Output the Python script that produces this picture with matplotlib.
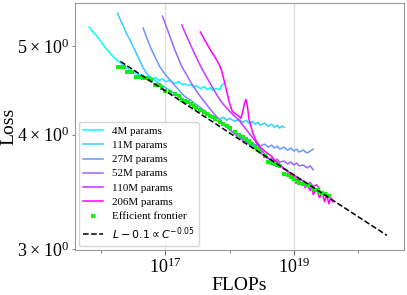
import matplotlib
matplotlib.use("Agg")
import numpy as np
import matplotlib.pyplot as plt
from matplotlib.ticker import FixedLocator, NullFormatter

plt.rcParams['font.family'] = ['Liberation Serif', 'DejaVu Serif']
plt.rcParams['mathtext.fontset'] = 'dejavusans'

# ---------------------------------------------------------------
# Curvas de loss por modelo (FLOPs, loss)
# ---------------------------------------------------------------
flops_4m = [6.5e15, 7e15, 8e15, 9e15, 1e16, 1.2e16, 1.4e16, 1.6e16, 1.8e16, 2e16,
            2.25e16, 2.5e16, 2.75e16, 3e16, 3.5e16, 4e16, 4.5e16, 5e16, 5.5e16, 6e16,
            7e16, 8e16, 9e16, 1e17, 1.2e17, 1.4e17, 1.6e17, 1.8e17, 2e17, 2.25e17,
            2.5e17, 2.75e17, 3e17, 3.5e17, 4e17, 4.5e17, 5e17, 5.5e17, 6e17, 7e17,
            7.5e17, 8e17]
loss_4m = [5.243, 5.204, 5.152, 5.101, 5.051, 4.963, 4.902, 4.853, 4.817, 4.793,
           4.757, 4.733, 4.710, 4.687, 4.663, 4.651, 4.640, 4.617, 4.628, 4.605,
           4.617, 4.583, 4.605, 4.571, 4.583, 4.549, 4.571, 4.537, 4.549, 4.526,
           4.537, 4.503, 4.526, 4.492, 4.514, 4.481, 4.503, 4.470, 4.492, 4.481,
           4.526, 4.549]

flops_11m = [1.8e16, 2e16, 2.25e16, 2.5e16, 2.75e16, 3e16, 3.5e16, 4e16, 4.5e16, 5e16,
             5.5e16, 6e16, 7e16, 8e16, 9e16, 1e17, 1.2e17, 1.4e17, 1.6e17, 1.8e17,
             2e17, 2.5e17, 3e17, 3.5e17, 4e17, 4.5e17, 5e17, 5.5e17, 6e17, 7e17,
             8e17, 9e17, 1e18, 1.2e18, 1.4e18, 1.6e18, 1.8e18, 2e18, 2.25e18, 2.5e18,
             2.75e18, 3e18, 3.5e18, 4e18, 4.5e18, 5e18, 5.5e18, 6e18, 6.5e18, 7e18]
loss_11m = [5.429, 5.335, 5.243, 5.152, 5.089, 5.025, 4.914, 4.817, 4.733, 4.675,
            4.640, 4.617, 4.583, 4.549, 4.526, 4.503, 4.470, 4.436, 4.403, 4.382,
            4.360, 4.316, 4.284, 4.252, 4.231, 4.210, 4.200, 4.179, 4.189, 4.158,
            4.179, 4.148, 4.168, 4.137, 4.158, 4.127, 4.148, 4.117, 4.137, 4.107,
            4.127, 4.097, 4.117, 4.087, 4.107, 4.076, 4.097, 4.066, 4.087, 4.076]

flops_27m = [4.5e16, 5e16, 5.5e16, 6e16, 7e16, 8e16, 9e16, 1e17, 1.2e17, 1.4e17,
             1.6e17, 1.8e17, 2e17, 2.5e17, 3e17, 3.5e17, 4e17, 5e17, 6e17, 7e17,
             8e17, 9e17, 1e18, 1.2e18, 1.4e18, 1.6e18, 1.8e18, 2e18, 2.25e18, 2.5e18,
             2.75e18, 3e18, 3.5e18, 4e18, 4.5e18, 5e18, 5.5e18, 6e18, 7e18, 8e18,
             9e18, 1e19, 1.1e19, 1.2e19, 1.4e19, 1.6e19, 1.8e19, 2e19]
loss_27m = [5.230, 5.127, 5.038, 4.963, 4.853, 4.757, 4.698, 4.651, 4.583, 4.526,
            4.481, 4.436, 4.403, 4.360, 4.316, 4.284, 4.252, 4.200, 4.158, 4.127,
            4.097, 4.076, 4.046, 4.016, 3.986, 3.956, 3.936, 3.917, 3.926, 3.897,
            3.917, 3.887, 3.907, 3.877, 3.897, 3.868, 3.887, 3.858, 3.877, 3.848,
            3.868, 3.839, 3.858, 3.829, 3.848, 3.820, 3.839, 3.858]

flops_52m = [9e16, 1e17, 1.2e17, 1.4e17, 1.6e17, 1.8e17, 2e17, 2.5e17, 3e17, 3.5e17,
             4e17, 5e17, 6e17, 7e17, 8e17, 1e18, 1.2e18, 1.4e18, 1.6e18, 1.8e18,
             2e18, 2.25e18, 2.5e18, 2.75e18, 3e18, 3.5e18, 4e18, 4.5e18, 5e18, 5.5e18,
             6e18, 7e18, 8e18, 9e18, 1e19, 1.1e19, 1.2e19, 1.4e19, 1.6e19, 1.8e19, 2e19]
loss_52m = [5.388, 5.282, 5.101, 4.951, 4.841, 4.745, 4.687, 4.560, 4.470, 4.403,
            4.349, 4.263, 4.200, 4.148, 4.117, 4.056, 4.006, 3.976, 3.946, 3.926,
            3.907, 3.877, 3.858, 3.839, 3.820, 3.791, 3.763, 3.772, 3.744, 3.763,
            3.735, 3.744, 3.716, 3.735, 3.707, 3.726, 3.698, 3.707, 3.680, 3.698, 3.662]

flops_110m = [1.8e17, 2e17, 2.5e17, 3e17, 3.5e17, 4e17, 5e17, 6e17, 7e17, 8e17,
              1e18, 1.2e18, 1.4e18, 1.6e18, 1.8e18, 2e18, 2.5e18, 3e18, 3.5e18, 4e18,
              4.5e18, 5e18, 5.5e18, 6e18, 7e18, 8e18, 9e18, 1e19, 1.2e19, 1.4e19,
              1.6e19, 1.8e19, 2e19, 2.25e19, 2.5e19]
loss_110m = [5.269, 5.178, 5.001, 4.866, 4.757, 4.675, 4.549, 4.448, 4.371, 4.316,
             4.242, 4.189, 4.148, 4.097, 4.056, 4.016, 3.936, 3.858, 3.810, 3.772,
             3.753, 3.726, 3.735, 3.698, 3.671, 3.653, 3.626, 3.617, 3.581, 3.563,
             3.537, 3.546, 3.511, 3.528, 3.493]

flops_206m = [3.5e17, 4e17, 5e17, 6e17, 7e17, 7.5e17, 8e17, 9e17, 1e18, 1.1e18,
              1.2e18, 1.4e18, 1.5e18, 1.6e18, 1.7e18, 1.8e18, 1.9e18, 2e18, 2.25e18, 2.5e18,
              2.75e18, 3e18, 3.5e18, 4e18, 4.5e18, 5e18, 6e18, 7e18, 8e18, 9e18,
              1e19, 1.1e19, 1.2e19, 1.3e19, 1.4e19, 1.5e19, 1.6e19, 1.8e19, 1.9e19, 2e19,
              2.25e19, 2.5e19, 2.75e19, 3e19, 3.25e19, 3.5e19, 3.75e19, 4e19]
loss_206m = [5.178, 5.089, 4.951, 4.853, 4.757, 4.698, 4.617, 4.459, 4.327, 4.242,
             4.221, 4.189, 4.168, 4.242, 4.327, 4.371, 4.284, 4.158, 4.036, 3.956,
             3.907, 3.877, 3.839, 3.810, 3.791, 3.753, 3.716, 3.671, 3.644, 3.617,
             3.599, 3.572, 3.581, 3.537, 3.555, 3.502, 3.528, 3.476, 3.520, 3.441,
             3.493, 3.415, 3.467, 3.380, 3.441, 3.363, 3.415, 3.380]

# Frontera eficiente (minimo sobre los modelos)
flops_front = [1.8e16, 2e16, 2.25e16, 2.5e16, 2.75e16, 3e16, 3.5e16, 4e16, 4.5e16, 5e16,
               5.5e16, 6e16, 7e16, 8e16, 9e16, 1e17, 1.2e17, 1.4e17, 1.6e17, 1.8e17,
               2e17, 2.25e17, 2.5e17, 2.75e17, 3e17, 3.5e17, 4e17, 4.5e17, 5e17, 5.5e17,
               6e17, 7e17, 8e17, 9e17, 1e18, 1.2e18, 1.4e18, 1.6e18, 1.8e18, 2e18,
               2.25e18, 2.5e18, 2.75e18, 3e18, 3.5e18, 4e18, 4.5e18, 5e18, 5.5e18, 6e18,
               7e18, 8e18, 9e18, 1e19, 1.1e19, 1.2e19, 1.4e19, 1.6e19, 1.8e19, 2e19,
               2.25e19, 2.5e19, 2.75e19, 3e19, 3.5e19]
loss_front = [4.745, 4.745, 4.745, 4.687, 4.687, 4.687, 4.628, 4.628, 4.617, 4.617,
              4.605, 4.594, 4.537, 4.537, 4.503, 4.459, 4.448, 4.426, 4.414, 4.360,
              4.349, 4.338, 4.316, 4.295, 4.274, 4.252, 4.231, 4.210, 4.189, 4.179,
              4.158, 4.127, 4.107, 4.087, 4.066, 4.026, 3.996, 3.976, 3.956, 3.936,
              3.907, 3.877, 3.858, 3.839, 3.791, 3.735, 3.726, 3.716, 3.707, 3.698,
              3.626, 3.617, 3.599, 3.581, 3.555, 3.546, 3.537, 3.528, 3.520, 3.493,
              3.485, 3.467, 3.458, 3.450, 3.432]

# Ajuste: L - 0.1 = A * C^(-b)
fit_offset = 0.1
fit_coef = 27.48
fit_exp = 0.047
fit_range = [2e16, 2.8e20]

curvas = [
    (flops_4m, loss_4m, "4M params"),
    (flops_11m, loss_11m, "11M params"),
    (flops_27m, loss_27m, "27M params"),
    (flops_52m, loss_52m, "52M params"),
    (flops_110m, loss_110m, "110M params"),
    (flops_206m, loss_206m, "206M params"),
]
colores = plt.cm.cool(np.linspace(0, 1, len(curvas)))

fig = plt.figure(figsize=(4.07, 2.95), dpi=100)
ax = fig.add_axes([0.184, 0.153, 0.809, 0.837])

for (x, y, nombre), c in zip(curvas, colores):
    ax.plot(x, y, color=c, lw=1.1, label=nombre, zorder=2)

ax.scatter(flops_front, loss_front, color='#11ee11', marker='s', s=9, lw=0,
           label="Efficient frontier", zorder=3)

c_fit = np.logspace(np.log10(fit_range[0]), np.log10(fit_range[1]), 100)
ax.plot(c_fit, fit_offset + fit_coef * c_fit ** (-fit_exp), 'k--', lw=1.1,
        label=r"$L - 0.1 \propto C^{-0.05}$", zorder=4)

ax.set_xscale('log')
ax.set_yscale('log')
ax.set_xlim(3.9e15, 5.2e20)
ax.set_ylim(2.995, 5.57)

ax.xaxis.set_major_locator(FixedLocator([1e17, 1e19]))
ax.xaxis.set_minor_locator(FixedLocator([1e16, 1e18, 1e20]))
ax.xaxis.set_minor_formatter(NullFormatter())
ax.tick_params(which='both', labelsize=13, color='0.4', pad=2)
ax.grid(True, which='major', axis='x', color='#dddddd', lw=0.9)
for s in ax.spines.values():
    s.set_color('0.6')

ax.set_xlabel("FLOPs", fontsize=14, labelpad=0)
ax.set_ylabel("Loss", fontsize=14, labelpad=0)

ax.legend(loc='lower left', fontsize=7.9, handlelength=1.8, borderaxespad=0.35,
          labelspacing=0.4, markerscale=0.8)

fig.savefig("out.png", dpi=100)
